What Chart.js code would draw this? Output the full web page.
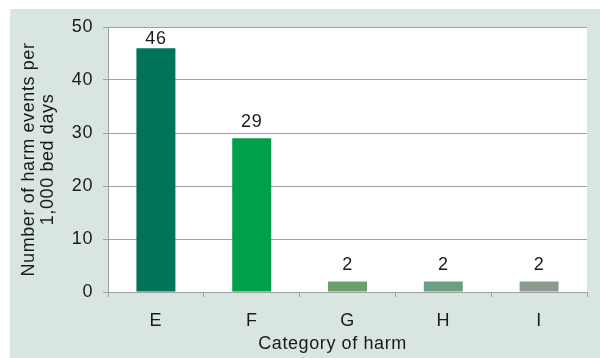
<!DOCTYPE html>
<html>
<head>
<meta charset="utf-8">
<script src="https://cdn.jsdelivr.net/npm/chart.js@4/dist/chart.umd.min.js"></script>
<style>
  html, body { margin: 0; padding: 0; background: #ffffff; }
  #wrap { width: 600px; height: 358px; }
</style>
</head>
<body>
<div id="wrap"><canvas id="harmChart" width="600" height="358"></canvas></div>
<script>
// Harm events per 1,000 bed days, by category of harm
const categories = ['E', 'F', 'G', 'H', 'I'];
const harmEvents = [46, 29, 2, 2, 2];
const barColors = ['#00745a', '#009f4a', '#6c9f6c', '#69a084', '#8a9a8f'];
const yTickValues = [0, 10, 20, 30, 40, 50];
const xTitle = 'Category of harm';
const yTitle = ['Number of harm events per', '1,000 bed days'];

const FONT = '"Liberation Sans", Arial, sans-serif';
const TEXT = '#1a1a1a';
const GRID = '#a0a0a0';

// Panel background, white plot area and shared text spacing
const panelPlugin = {
  id: 'panel',
  beforeDraw(chart) {
    const ctx = chart.ctx;
    const a = chart.chartArea;
    ctx.letterSpacing = '0.6px';
    ctx.save();
    ctx.fillStyle = '#d9e5e1';
    ctx.fillRect(10, 9, chart.width - 10, chart.height - 9);
    ctx.fillStyle = '#ffffff';
    ctx.fillRect(a.left, a.top, a.right - a.left, a.bottom - a.top);
    ctx.restore();
  }
};

// Value labels above each bar, kept inside the plot area
const valueLabels = {
  id: 'valueLabels',
  afterDatasetsDraw(chart) {
    const ctx = chart.ctx;
    const top = chart.chartArea.top;
    ctx.save();
    ctx.font = '18px ' + FONT;
    ctx.fillStyle = TEXT;
    ctx.textAlign = 'center';
    ctx.textBaseline = 'alphabetic';
    chart.getDatasetMeta(0).data.forEach((bar, i) => {
      const y = Math.max(bar.y - 11, top + 17);
      ctx.fillText(String(harmEvents[i]), bar.x, y);
    });
    ctx.restore();
  }
};

// Category axis title, set slightly left of the plot centre
const xAxisTitle = {
  id: 'xAxisTitle',
  afterDraw(chart) {
    const ctx = chart.ctx;
    const a = chart.chartArea;
    ctx.save();
    ctx.font = '18px ' + FONT;
    ctx.fillStyle = TEXT;
    ctx.textAlign = 'center';
    ctx.textBaseline = 'middle';
    ctx.fillText(xTitle, (a.left + a.right) / 2 - 15, chart.height - 14);
    ctx.restore();
  }
};

new Chart(document.getElementById('harmChart'), {
  type: 'bar',
  data: {
    labels: categories,
    datasets: [{
      data: harmEvents,
      backgroundColor: barColors,
      borderWidth: 0,
      barPercentage: 0.407,
      categoryPercentage: 1.0
    }]
  },
  options: {
    responsive: false,
    devicePixelRatio: 1,
    animation: false,
    layout: { padding: { left: 10, top: 27, right: 13, bottom: 0 } },
    plugins: {
      legend: { display: false },
      tooltip: { enabled: false }
    },
    scales: {
      x: {
        offset: true,
        grid: {
          offset: true,
          drawOnChartArea: false,
          drawTicks: true,
          tickLength: 5,
          color: GRID,
          lineWidth: 1
        },
        border: { color: GRID, width: 1 },
        ticks: {
          color: TEXT,
          font: { family: FONT, size: 18 },
          padding: 13
        },
        title: { display: false },
        afterFit(scale) { scale.height = 66; }
      },
      y: {
        min: 0,
        max: 50,
        afterBuildTicks(scale) {
          scale.ticks = yTickValues.map(v => ({ value: v }));
        },
        grid: {
          color: GRID,
          lineWidth: 1,
          tickLength: 5,
          drawTicks: true
        },
        border: { color: GRID, width: 1 },
        ticks: {
          color: TEXT,
          font: { family: FONT, size: 18 },
          padding: 10
        },
        title: {
          display: true,
          text: yTitle,
          color: TEXT,
          font: { family: FONT, size: 18, lineHeight: 1.05 },
          padding: { top: 10, bottom: 0 }
        },
        afterFit(scale) { scale.width = 98; }
      }
    }
  },
  plugins: [panelPlugin, valueLabels, xAxisTitle]
});
</script>
</body>
</html>
